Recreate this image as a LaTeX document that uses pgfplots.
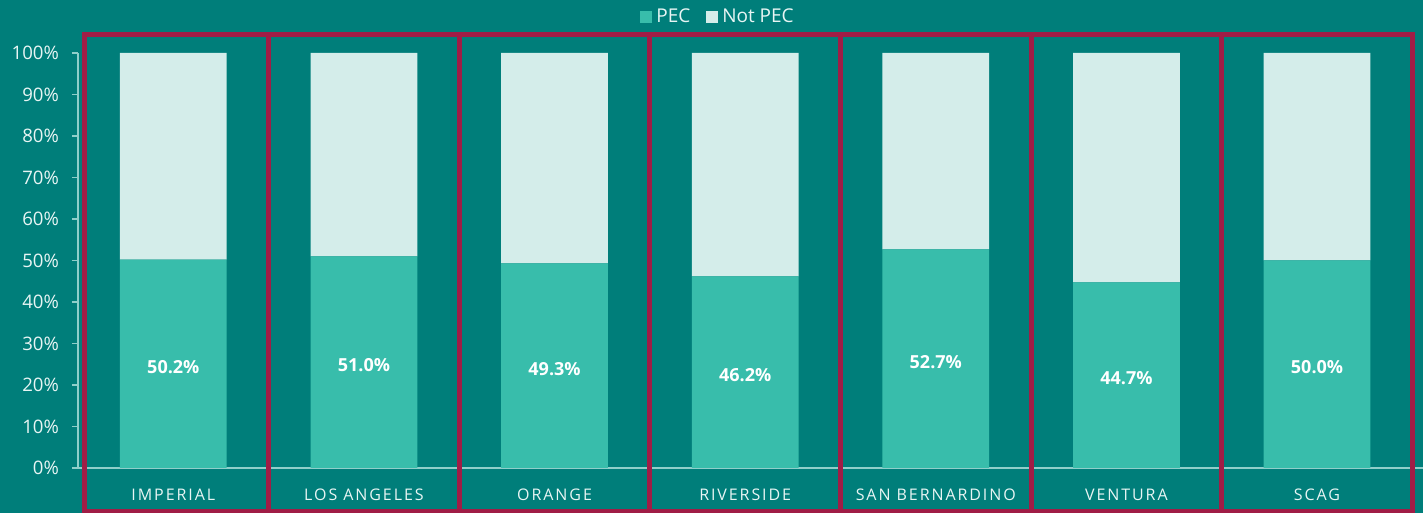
\documentclass[border=0pt]{standalone}
\usepackage{fontspec}
\setmainfont{Open Sans}
\newfontfamily\spaced[LetterSpace=12]{Open Sans}
\usepackage{pgfplots}
\pgfplotsset{compat=1.18}
\definecolor{bg}{HTML}{007E7A}
\definecolor{pec}{HTML}{38BDAB}
\definecolor{notpec}{HTML}{D4EDEA}
\definecolor{boxc}{HTML}{A01D46}
\definecolor{txt}{HTML}{E8F5F4}
\definecolor{axl}{HTML}{8FCFCA}
\begin{document}
\begin{tikzpicture}
\useasboundingbox (0,0) rectangle (711.5pt,256.5pt);
\fill[bg] (0,0) rectangle (711.5pt,256.5pt);
\begin{axis}[
  at={(39pt,22.5pt)}, anchor=south west,
  scale only axis, width=672.5pt, height=207.5pt,
  xmin=-0.5, xmax=6.556, ymin=0, ymax=100,
  ybar stacked, bar width=0.56,
  clip=false,
  axis x line*=bottom, axis y line*=left,
  axis line style={axl, line width=0.6pt, -},
  ytick={0,10,...,100},
  yticklabel={\pgfmathprintnumber{\tick}\%},
  /pgf/number format/assume math mode=true,
  y tick label style={font=\fontsize{9.3}{10}\selectfont, text=txt, xshift=-3pt},
  ytick style={axl, line width=0.6pt},
  tick align=outside, major tick length=3pt,
  xtick={0,...,6},
  xticklabels={IMPERIAL, LOS ANGELES, ORANGE, RIVERSIDE, SAN BERNARDINO, VENTURA, SCAG},
  x tick style={draw=none},
  x tick label style={font=\spaced\fontsize{8}{9}\selectfont, text=txt, anchor=center, yshift=-10.5pt},
  legend style={at={(0.4766,1.087)}, anchor=center, legend columns=2, draw=none, fill=none,
    text=txt, font=\fontsize{9.5}{10}\selectfont,
    /tikz/every even column/.append style={column sep=6pt}},
  legend image code/.code={\fill[#1,draw=none] (0pt,-3pt) rectangle (6pt,3pt);},
]
\addplot[fill=pec, draw=none,
  nodes near coords={\bfseries\pgfmathprintnumber[fixed,fixed zerofill,precision=1]{\pgfplotspointmeta}\%},
  every node near coord/.append style={anchor=center, text=white, font=\fontsize{9}{10}\selectfont\bfseries, yshift=-1.5pt}]
  coordinates {(0,50.2) (1,51.0) (2,49.3) (3,46.2) (4,52.7) (5,44.7) (6,50.0)};
\addlegendentry{PEC}
\addplot[fill=notpec, draw=none]
  coordinates {(0,49.8) (1,49.0) (2,50.7) (3,53.8) (4,47.3) (5,55.3) (6,50.0)};
\addlegendentry{Not PEC}
\draw[boxc, line width=2.5pt] (axis cs:-0.465,104.5) rectangle (axis cs:0.5,-10.4);
\draw[boxc, line width=2.5pt] (axis cs:0.5,104.5) rectangle (axis cs:1.5,-10.4);
\draw[boxc, line width=2.5pt] (axis cs:1.5,104.5) rectangle (axis cs:2.5,-10.4);
\draw[boxc, line width=2.5pt] (axis cs:2.5,104.5) rectangle (axis cs:3.5,-10.4);
\draw[boxc, line width=2.5pt] (axis cs:3.5,104.5) rectangle (axis cs:4.5,-10.4);
\draw[boxc, line width=2.5pt] (axis cs:4.5,104.5) rectangle (axis cs:5.5,-10.4);
\draw[boxc, line width=2.5pt] (axis cs:5.5,104.5) rectangle (axis cs:6.5,-10.4);
\end{axis}
\end{tikzpicture}
\end{document}
